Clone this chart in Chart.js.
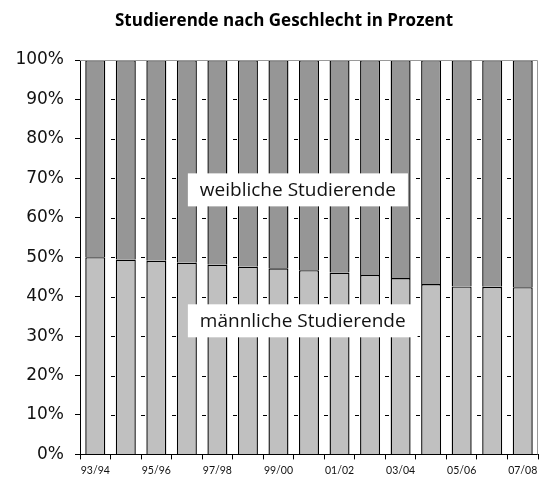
<!DOCTYPE html>
<html>
<head>
<meta charset="utf-8">
<script src="https://cdn.jsdelivr.net/npm/chart.js@4.4.1/dist/chart.umd.min.js"></script>
<style>
  html, body { margin: 0; padding: 0; background: #fff; }
  #wrap { width: 546px; height: 482px; }
</style>
</head>
<body>
<div id="wrap"><canvas id="grafica" width="546" height="482"></canvas></div>
<script>
// Wintersemester
const semester = ['93/94','94/95','95/96','96/97','97/98','98/99','99/00','00/01',
                  '01/02','02/03','03/04','04/05','05/06','06/07','07/08'];
// Anteil in Prozent
const maennlich = [50.0, 49.4, 49.1, 48.6, 48.1, 47.6, 47.2, 46.7, 46.1, 45.5, 44.7, 43.2, 42.6, 42.5, 42.4];
const weiblich = maennlich.map(v => +(100 - v).toFixed(1));
const yTicks = [0,10,20,30,40,50,60,70,80,90,100];

const titel = 'Studierende nach Geschlecht in Prozent';
const beschriftung = [
    {text: 'weibliche Studierende', x: 3, y: 67.2},
    {text: 'männliche Studierende', x: 3, y: 34.0}
];

// kurze Gitterstriche zwischen den Balken
const striche = {
    id: 'striche',
    beforeDatasetsDraw(chart){
        const {ctx, scales} = chart;
        ctx.save();
        ctx.strokeStyle = '#000';
        ctx.lineWidth = 1;
        ctx.beginPath();
        for (const v of yTicks) {
            if (v === 0 || v === 100) continue;
            const y = Math.round(scales.y.getPixelForValue(v)) + 0.5;
            for (let i = 1; i < semester.length; i++) {
                const x = Math.round(scales.x.getPixelForValue(i - 0.5));
                ctx.moveTo(x, y);
                ctx.lineTo(x + 4, y);
            }
        }
        ctx.stroke();
        ctx.restore();
    }
};

// Titel, graue Rahmenlinie oben und rechts, Beschriftungskästen
const rahmen = {
    id: 'rahmen',
    afterDatasetsDraw(chart){
        const {ctx, chartArea: a, scales} = chart;
        ctx.save();
        ctx.strokeStyle = '#9a9a9a';
        ctx.lineWidth = 1;
        ctx.beginPath();
        ctx.moveTo(a.left, a.top + 0.5);
        ctx.lineTo(a.right - 0.5, a.top + 0.5);
        ctx.lineTo(a.right - 0.5, a.bottom);
        ctx.stroke();

        ctx.fillStyle = '#000';
        ctx.font = 'bold 17px "Open Sans"';
        ctx.textAlign = 'center';
        ctx.textBaseline = 'middle';
        ctx.fillText(titel, 284, 21);

        ctx.textAlign = 'left';
        ctx.font = '19px "Open Sans"';
        for (const b of beschriftung) {
            const x = scales.x.getPixelForValue(b.x) + 1;
            const y = scales.y.getPixelForValue(b.y);
            const w = ctx.measureText(b.text).width + 24;
            ctx.fillStyle = '#fff';
            ctx.fillRect(x, y - 16, w, 33);
            ctx.fillStyle = '#111';
            ctx.fillText(b.text, x + 12, y + 1);
        }
        ctx.restore();
    }
};

new Chart(document.getElementById('grafica'), {
    type: 'bar',
    data: {
        labels: semester,
        datasets: [{
            label: 'männliche Studierende',
            data: maennlich,
            backgroundColor: '#c0c0c0',
            borderColor: '#000',
            borderWidth: 1.4
        },{
            label: 'weibliche Studierende',
            data: weiblich,
            backgroundColor: '#969696',
            borderColor: '#000',
            borderWidth: 1.4
        }]
    },
    options: {
        responsive: false,
        animation: false,
        events: [],
        layout: { padding: { left: 0, right: 8, top: 60, bottom: 0 } },
        datasets: { bar: { barPercentage: 0.655, categoryPercentage: 1 } },
        plugins: {
            legend: { display: false },
            tooltip: { enabled: false },
            title: { display: false }
        },
        scales: {
            x: {
                stacked: true,
                grid: { drawOnChartArea: false, drawTicks: true, tickLength: 5, tickColor: '#000' },
                border: { color: '#000', width: 1 },
                ticks: {
                    autoSkip: false,
                    maxRotation: 0,
                    padding: 5,
                    color: '#111',
                    font: { family: 'Lato', size: 10.5 },
                    callback: (v, i) => i % 2 === 0 ? semester[i] : ''
                }
            },
            y: {
                stacked: true,
                min: 0,
                max: 100,
                afterFit: (s) => { s.width = 80; },
                afterBuildTicks: (s) => { s.ticks = yTicks.map(v => ({value: v})); },
                grid: { drawOnChartArea: false, tickColor: '#000', tickLength: 5 },
                border: { color: '#000', width: 1 },
                ticks: {
                    padding: 11,
                    color: '#111',
                    font: { family: 'DejaVu Sans', size: 17 },
                    callback: v => v + '%'
                }
            }
        }
    },
    plugins: [striche, rahmen]
});
</script>
</body>
</html>
